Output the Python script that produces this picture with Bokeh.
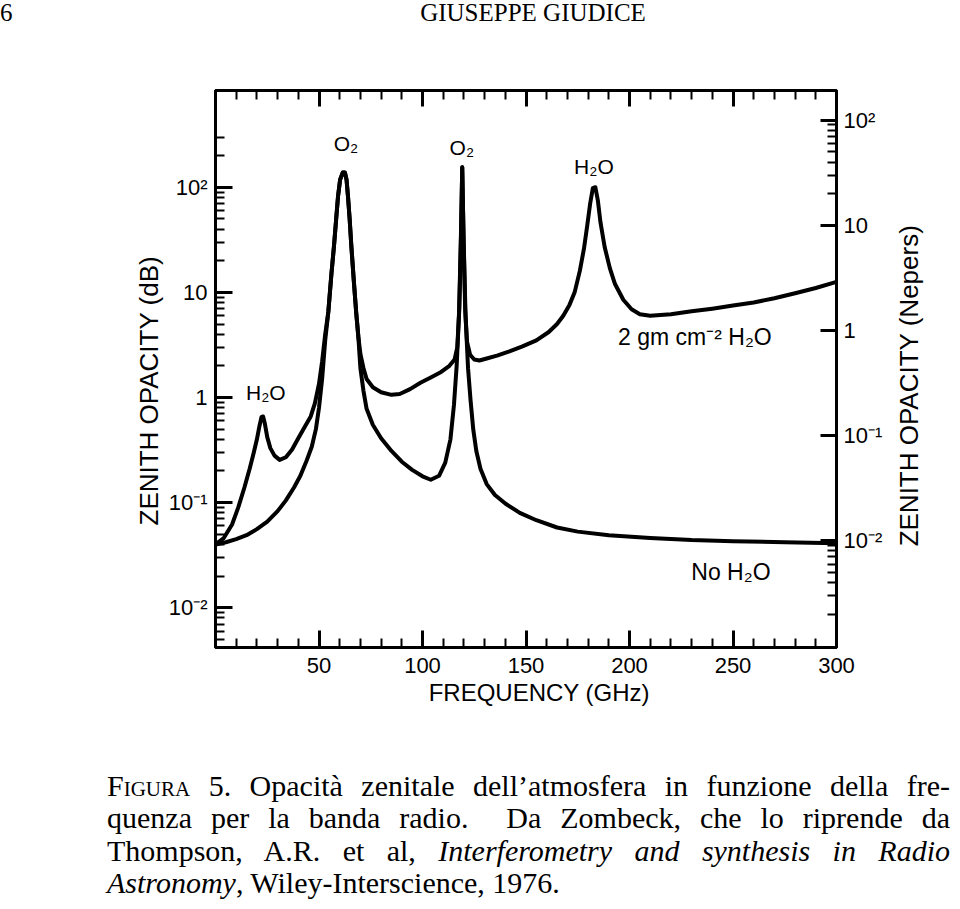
import math

from bokeh.embed import file_html
from bokeh.layouts import column
from bokeh.models import (CustomJSTickFormatter, Div, FixedTicker, Label, LinearAxis,
                          LogAxis, LogScale, Range1d)
from bokeh.plotting import figure
from bokeh.resources import INLINE

# ---------------------------------------------------------------- data
# zenith opacity (dB) with 2 g cm^-2 of precipitable water
freq_wet = [0, 4, 8, 11, 14, 16.5, 18.5, 20, 21.2, 22.2, 23, 23.8, 25, 26.5, 28.5,
            31, 34, 37, 40, 43, 46, 48, 50, 51.5, 53, 54.5, 56, 57.2, 58.3, 59.2,
            60.2, 61.5, 62.5, 63.3, 64, 64.8, 65.6, 66.8, 68, 69, 70, 71.5, 73, 76,
            80, 85, 89, 94, 99, 104, 109, 113, 115.5, 116.8, 117.8, 118.6, 119.2,
            119.8, 120.6, 121.5, 123, 125, 127.5, 131, 136, 142, 148, 155, 161, 165,
            168, 171, 173.5, 176, 178, 179.5, 181, 182.3, 183.5, 184.7, 186, 188,
            190.5, 193, 197, 201, 205, 210, 220, 230, 240, 250, 260, 270, 280, 290,
            300]
tau_wet_db = [0.040, 0.046, 0.062, 0.09, 0.14, 0.21, 0.30, 0.40, 0.53, 0.65, 0.66,
              0.57, 0.42, 0.33, 0.28, 0.255, 0.27, 0.32, 0.41, 0.52, 0.66, 0.88,
              1.35, 2.2, 4.0, 6.5, 15, 27, 50, 82, 118, 138, 138, 118, 82, 50, 28,
              13, 6.3, 3.8, 2.6, 1.9, 1.5, 1.25, 1.12, 1.06, 1.08, 1.2, 1.38, 1.55,
              1.75, 2.0, 2.3, 3.0, 7, 35, 155, 35, 7, 3.4, 2.55, 2.3, 2.25, 2.35,
              2.5, 2.75, 3.05, 3.5, 4.2, 5.0, 6.0, 7.6, 10, 16, 26, 42, 70, 98, 100,
              75, 46, 27, 17, 12, 8.5, 6.9, 6.2, 6.0, 6.2, 6.6, 7.0, 7.5, 8.0, 8.8,
              9.8, 11.0, 12.6]

# zenith opacity (dB) of a dry atmosphere
freq_dry = [0, 5, 10, 15, 20, 25, 30, 34, 38, 41, 44, 46.5, 48.5, 50, 51.5, 53, 54.5,
            56, 57.2, 58.3, 59.2, 60.2, 61.5, 62.5, 63.3, 64, 64.8, 65.6, 66.8, 68,
            69, 70, 71.5, 73, 76, 80, 85, 90, 95, 100, 104, 108, 111, 113.5, 115.2,
            116.5, 117.6, 118.5, 119.2, 119.9, 120.8, 122, 123.2, 124.5, 126, 128,
            131, 135, 140, 147, 155, 165, 175, 190, 210, 230, 250, 275, 300]
tau_dry_db = [0.040, 0.042, 0.045, 0.049, 0.056, 0.066, 0.083, 0.105, 0.14, 0.18,
              0.25, 0.34, 0.5, 0.8, 1.5, 3.5, 6.5, 15, 27, 50, 82, 118, 138, 138,
              118, 82, 50, 28, 13, 6.3, 3.8, 1.9, 1.15, 0.78, 0.55, 0.41, 0.31,
              0.245, 0.205, 0.178, 0.165, 0.18, 0.24, 0.4, 0.85, 2.0, 6, 30, 155,
              30, 6, 1.9, 0.95, 0.5, 0.31, 0.21, 0.15, 0.118, 0.098, 0.08, 0.068,
              0.058, 0.053, 0.049, 0.046, 0.044, 0.043, 0.042, 0.041]

x_major_ticks = [50, 100, 150, 200, 250, 300]
x_minor_ticks = [f for f in range(10, 300, 10) if f % 50 != 0]
y_major_ticks = [0.01, 0.1, 1, 10, 100]
DB_PER_NEPER = 4.343

# (text, frequency GHz, opacity dB, font px)
line_labels = [("O\u2082", 63.0, 260, 21), ("O\u2082", 119.0, 239, 21),
               ("H\u2082O", 182.8, 157, 21), ("H\u2082O", 24.3, 1.12, 21),
               ("2 gm cm\u207b\u00b2 H\u2082O", 231.6, 3.8, 23),
               ("No H\u2082O", 249.0, 0.0221, 23)]

header_left = "6"
header_center = "GIUSEPPE GIUDICE"
caption_lines = [
    '<span style="font-variant:small-caps">Figura</span> 5. Opacit\u00e0 zenitale '
    'dell\u2019atmosfera in funzione della fre-',
    'quenza per la banda radio.&nbsp; Da Zombeck, che lo riprende da',
    'Thompson, A.R. et al, <i>Interferometry and synthesis in Radio</i>',
    '<i>Astronomy</i>, Wiley-Interscience, 1976.',
]

# ---------------------------------------------------------------- layout
PAGE_W = 960
HEADER_H, FIG_H, CAPTION_H = 40, 700, 169
FRAME_L, FRAME_R, FRAME_T, FRAME_B = 215, 836, 90, 647      # page pixels
LOG_TOP, LOG_BOT = 2.92, -2.378
X_LO, X_HI = 0, 300
SANS = "Liberation Sans"
SERIF = "'Liberation Serif', 'Times New Roman', serif"
NB = "\u00a0"

p = figure(width=PAGE_W, height=FIG_H, x_range=Range1d(X_LO, X_HI),
           y_range=Range1d(10 ** LOG_BOT, 10 ** LOG_TOP), y_axis_type="log",
           output_backend="svg", toolbar_location=None, title=None,
           min_border_left=FRAME_L, min_border_right=PAGE_W - FRAME_R,
           min_border_top=FRAME_T - HEADER_H,
           min_border_bottom=HEADER_H + FIG_H - FRAME_B)
p.grid.visible = False
p.outline_line_color = "black"
p.outline_line_width = 3
p.background_fill_color = "white"
p.border_fill_color = "white"

p.line(freq_dry, tau_dry_db, line_color="black", line_width=4, line_join="round")
p.line(freq_wet, tau_wet_db, line_color="black", line_width=4, line_join="round")


def style_axis(ax, tick_in, minor_in, standoff):
    ax.axis_line_color = "black"
    ax.axis_line_width = 3
    ax.major_tick_in = tick_in
    ax.major_tick_out = 0
    ax.minor_tick_in = minor_in
    ax.minor_tick_out = 0
    ax.major_tick_line_width = 3
    ax.minor_tick_line_width = 2
    ax.major_tick_line_color = "black"
    ax.minor_tick_line_color = "black"
    ax.major_label_text_font = SANS
    ax.major_label_text_font_size = "22px"
    ax.major_label_text_color = "black"
    ax.major_label_standoff = standoff
    ax.axis_label_text_font = SANS
    ax.axis_label_text_font_style = "normal"
    ax.axis_label_text_color = "black"


log_fmt = """
const e = Math.round(Math.log10(tick));
if (e === 0) return "1";
if (e === 1) return "10";
const sup = {"-3": "\u207b\u00b3", "-2": "\u207b\u00b2", "-1": "\u207b\u00b9", "2": "\u00b2", "3": "\u00b3"};
return "10" + sup[String(e)];
"""

# bottom axis
xa = p.xaxis[0]
xa.ticker = FixedTicker(ticks=x_major_ticks, minor_ticks=x_minor_ticks)
style_axis(xa, 17, 9, 10)
xa.axis_label = NB * 4 + "FREQUENCY (GHz)"
xa.axis_label_text_font_size = "24px"
xa.axis_label_standoff = 3

# top axis (ticks only)
top = LinearAxis(ticker=FixedTicker(ticks=x_major_ticks, minor_ticks=x_minor_ticks),
                 formatter=CustomJSTickFormatter(code="return '';"))
style_axis(top, 16, 9, 0)
p.add_layout(top, "above")

# left axis (dB)
ya = p.yaxis[0]
y_lo, y_hi = 10 ** LOG_BOT, 10 ** LOG_TOP
left_minor = [m * 10 ** e for e in range(-3, 3) for m in range(2, 10)
              if y_lo < m * 10 ** e <= 300]
ya.ticker = FixedTicker(ticks=y_major_ticks, minor_ticks=left_minor)
ya.formatter = CustomJSTickFormatter(code=log_fmt)
style_axis(ya, 17, 9, 8)
ya.axis_label = "ZENITH OPACITY (dB)" + NB * 6
ya.axis_label_text_font_size = "26px"
ya.axis_label_standoff = 2

# right axis (Nepers)
np_lo, np_hi = y_lo / DB_PER_NEPER, y_hi / DB_PER_NEPER
p.extra_y_ranges = {"np": Range1d(np_lo, np_hi)}
p.extra_y_scales = {"np": LogScale()}
right_minor = [m * 10 ** e for e in (-3, 1) for m in range(2, 10)
               if np_lo < m * 10 ** e < np_hi]
ra = LogAxis(y_range_name="np",
             ticker=FixedTicker(ticks=y_major_ticks, minor_ticks=right_minor),
             formatter=CustomJSTickFormatter(code=log_fmt))
style_axis(ra, 16, 9, 7)
ra.axis_label = NB * 14 + "ZENITH OPACITY (Nepers)"
ra.axis_label_text_font_size = "26px"
ra.axis_label_standoff = 24
try:
    ra.axis_label_orientation = math.pi / 2
    ra.axis_label_align = "start"
except Exception:
    pass
p.add_layout(ra, "right")

# line annotations
for txt, f, v, fs in line_labels:
    p.add_layout(Label(x=f, y=v, text=txt, text_font=SANS, text_font_size=f"{fs}px",
                       text_align="center", text_baseline="middle", text_color="black"))

# ---------------------------------------------------------------- page text
header_html = (
    f'<div style="position:relative;width:{PAGE_W}px;height:{HEADER_H}px;'
    f'font-family:{SERIF};font-size:25px;line-height:25px;color:black;">'
    f'<span style="position:absolute;left:0px;top:0px;">{header_left}</span>'
    f'<span style="position:absolute;left:0px;top:0px;width:1066px;text-align:center;">'
    f'{header_center}</span></div>'
)
header = Div(text=header_html, width=PAGE_W, height=HEADER_H, margin=(0, 0, 0, 0))

line_divs = []
for i, ln in enumerate(caption_lines):
    last = i == len(caption_lines) - 1
    align = "text-align:left;" if last else "text-align:justify;text-align-last:justify;"
    line_divs.append(f'<div style="{align}white-space:normal;">{ln}</div>')
caption_html = (
    f'<div style="padding-top:29.5px;margin-left:107px;width:843px;'
    f'font-family:{SERIF};font-size:30px;line-height:32.5px;color:black;">'
    + "".join(line_divs) + "</div>"
)
caption = Div(text=caption_html, width=PAGE_W, height=CAPTION_H, margin=(0, 0, 0, 0))

page = column(header, p, caption, spacing=0)
open("out.html", "w").write(file_html(page, INLINE))
